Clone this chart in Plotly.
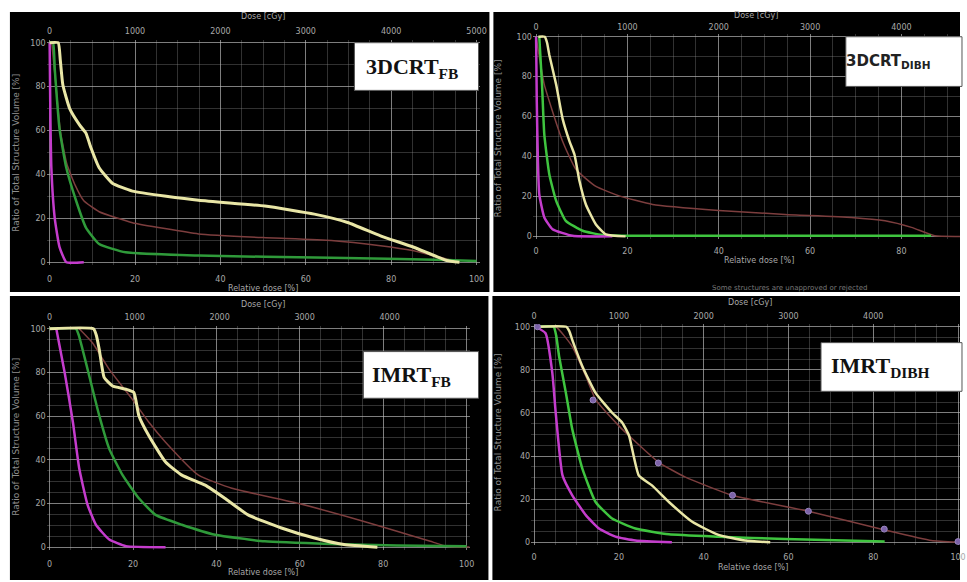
import plotly.graph_objects as go

W, H = 967, 582

# ---------------- data (relative dose [%], volume [%]) ----------------
# Panel 1: 3DCRT FB
p1_yellow_x = [0, 2.0, 2.5, 3.1, 4.7, 7.0, 8.5, 9.7, 11.6, 14.7, 19.4, 34.9, 50.4, 62.0, 69.8, 77.5, 85.3, 93.0, 96.0]
p1_yellow_y = [100, 100, 92, 80.7, 70, 62.6, 58.8, 52, 43, 36, 32.4, 28.2, 25.6, 21.9, 18.1, 12, 6.8, 0.8, 0]
p1_brown_x = [0.5, 1.5, 2.5, 4, 6, 8, 11.6, 19.4, 27, 34.9, 50, 66, 77.5, 85, 93, 96]
p1_brown_y = [100, 80, 60, 45, 35, 28, 23, 18, 15.3, 12.9, 11.2, 9.9, 7.5, 5.3, 1.5, 0]
p1_green_x = [0, 0.8, 1.2, 2.3, 3.9, 6.2, 8.5, 11.6, 17.8, 34.9, 65.9, 93, 100]
p1_green_y = [100, 100, 88, 61, 43, 28, 15.8, 8.3, 4.5, 3, 2, 1, 0.5]
p1_mag_x = [0, 0.15, 0.4, 1.2, 2.3, 3.9, 8.0]
p1_mag_y = [100, 70, 43, 20, 7, 0, 0]

# Panel 2: 3DCRT DIBH
p2_yellow_x = [0.5, 1.9, 2.4, 2.9, 4.4, 5.8, 7.3, 8.4, 9.5, 10.9, 13.1, 15.3, 19.6]
p2_yellow_y = [100, 100, 97, 90.9, 76, 59, 47.7, 41, 27.7, 16, 6, 1, 0]
p2_brown_x = [0, 1.8, 3.6, 5.8, 8.7, 13.1, 18.2, 25.5, 40, 54.5, 69, 76.4, 82.2, 87.3, 93]
p2_brown_y = [100, 76, 62.6, 47.7, 33.6, 25, 20.3, 16, 13, 11, 9.5, 7.8, 4.5, 0.3, 0]
p2_green_x = [0.7, 1.3, 1.8, 2.9, 4.4, 6.5, 10.2, 14.5, 19.6, 86.5]
p2_green_y = [100, 76, 51, 31, 17.8, 7.8, 2.8, 0.7, 0.3, 0.3]
p2_mag_x = [0, 0.15, 0.4, 0.7, 1.8, 3.6, 8.0, 16.7]
p2_mag_y = [100, 67.6, 37.7, 21, 9.5, 3.6, 0.3, 0]

# Panel 3: IMRT FB
p3_yellow_x = [0, 10.5, 11.2, 11.9, 13.1, 15.1, 18.3, 20.2, 21.4, 23.8, 27.8, 31.7, 37.3, 42, 47.6, 55.6, 63.5, 70.6, 78.6]
p3_yellow_y = [100, 100, 97, 90.5, 77.6, 73.8, 72.3, 70.8, 60.2, 51, 39, 33, 28.4, 22.4, 14.8, 8.8, 4.2, 1.2, 0]
p3_brown_x = [7.1, 10.3, 14.3, 19.8, 23.8, 27.8, 35.7, 43.7, 59.5, 75.4, 83.3, 91.3, 95.2, 102]
p3_brown_y = [100, 93.5, 81.4, 67.8, 57.2, 48.1, 33, 27, 20.1, 11.8, 7.3, 2.7, 0.5, 0]
p3_green_x = [0, 6.3, 7.0, 7.9, 9.5, 11.9, 14.3, 17.5, 21.4, 25.4, 31.7, 39.7, 51.6, 67.5, 83.3, 100]
p3_green_y = [100, 100, 97, 90.5, 78.4, 60.2, 45, 33, 22.4, 14.8, 10.3, 5.7, 2.7, 1.5, 0.8, 0.5]
p3_mag_x = [1.6, 3.6, 5.6, 7.1, 9.1, 11.1, 14.3, 18.3, 27.8]
p3_mag_y = [100, 80, 57, 36, 19.4, 10.3, 3.5, 0.5, 0]

# Panel 4: IMRT DIBH
p4_yellow_x = [0, 7.6, 8.3, 9.0, 11.4, 14.5, 18.4, 20.8, 22.4, 24.7, 27.8, 31.8, 37.3, 43.5, 49.8, 55.7]
p4_yellow_y = [100, 100, 98, 93.9, 81.6, 69.3, 60.1, 55.5, 49.4, 31, 26.4, 18.7, 9.5, 3.4, 0.8, 0]
p4_brown_x = [0.8, 5.1, 9.0, 12.2, 14.5, 20.0, 22.4, 29.4, 35.7, 46.7, 64.7, 82.7, 93.7, 100]
p4_brown_y = [100, 100, 90.8, 77, 66.3, 54, 49.4, 37.1, 30.2, 21.8, 14.4, 5.7, 0.8, 0]
p4_mark_x = [0.8, 13.9, 29.3, 46.8, 64.7, 82.6, 100]
p4_mark_y = [100, 66, 36.8, 21.8, 14.4, 6.1, 0.3]
p4_green_x = [0, 4.6, 5.2, 5.9, 7.5, 9.0, 11.4, 14.5, 18.4, 23.9, 31.8, 43.5, 59.2, 82.7]
p4_green_y = [100, 100, 96, 86.2, 69.3, 52.5, 34, 18.7, 11, 6.4, 3.7, 2.6, 1.5, 0.3]
p4_mag_x = [0.4, 2.7, 4.3, 5.1, 6.7, 9.0, 12.2, 15.3, 19.2, 23.9, 32.5]
p4_mag_y = [100, 97, 78.5, 60, 31, 21.8, 12.6, 6.4, 2.6, 0.8, 0]

rel_ticks = [0, 20, 40, 60, 80, 100]
vol_ticks = [0, 20, 40, 60, 80, 100]
dose_ticks = [0, 1000, 2000, 3000, 4000, 5000]
labels = ["3DCRT<sub>FB</sub>", "3DCRT<sub>DIBH</sub>", "IMRT<sub>FB</sub>", "IMRT<sub>DIBH</sub>"]

# ---------------- layout helpers ----------------
def px(x):
    return x / W

def py(y):
    return 1 - y / H

YELLOW = "#e9e6a6"
BROWN = "#7d3e3e"
MAGENTA = "#c43ccc"
GREEN1 = "#2f9a3a"
GREEN2 = "#3fc43f"
TICKC = "#a8a8a8"

panels = [
    # pixel position of relative-dose 0 / 100 and volume 100 / 0
    dict(x0=50, x100=480, xend=480, yt=41, yb=262, ym=10, bl=9, tl=4),
    dict(x0=540, x100=1000, xend=967, yt=35, yb=236, ym=10, bl=7, tl=2),
    dict(x0=50, x100=470, xend=470, yt=329, yb=549, ym=5, bl=9, tl=4, dose_px=85.6),
    dict(x0=538, x100=965, xend=967, yt=327, yb=544, ym=5, bl=7, tl=3),
]
XPAD, YPAD = 0.7, 1.2  # small padding so edge lines are not half clipped

data_sets = [
    [(p1_brown_x, p1_brown_y, BROWN, 1.5), (p1_green_x, p1_green_y, GREEN1, 2.5),
     (p1_mag_x, p1_mag_y, MAGENTA, 2.5), (p1_yellow_x, p1_yellow_y, YELLOW, 3)],
    [(p2_brown_x, p2_brown_y, BROWN, 1.5), (p2_green_x, p2_green_y, GREEN2, 2.5),
     (p2_mag_x, p2_mag_y, MAGENTA, 2.5), (p2_yellow_x, p2_yellow_y, YELLOW, 2.5)],
    [(p3_brown_x, p3_brown_y, BROWN, 1.5), (p3_green_x, p3_green_y, GREEN1, 2.5),
     (p3_mag_x, p3_mag_y, MAGENTA, 2.5), (p3_yellow_x, p3_yellow_y, YELLOW, 3)],
    [(p4_brown_x, p4_brown_y, BROWN, 1.5), (p4_green_x, p4_green_y, GREEN2, 2.5),
     (p4_mag_x, p4_mag_y, MAGENTA, 2.5), (p4_yellow_x, p4_yellow_y, YELLOW, 2.5)],
]

fig = go.Figure()
layout = dict(
    width=W, height=H, autosize=False,
    margin=dict(l=0, r=0, t=0, b=0),
    paper_bgcolor="white", plot_bgcolor="black",
    showlegend=False,
    font=dict(family="DejaVu Sans", color=TICKC, size=8),
)

for i, p in enumerate(panels):
    n = i + 1
    xa = f"xaxis{n}" if n > 1 else "xaxis"
    ya = f"yaxis{n}" if n > 1 else "yaxis"
    ta = f"xaxis{n + 4}"
    sx = (p["x100"] - p["x0"]) / 100.0
    sy = (p["yb"] - p["yt"]) / 100.0
    xl_px = p["x0"] - XPAD * sx
    xr_px = min(p["xend"] + XPAD * sx, W)
    xmin = -XPAD
    xmax = (xr_px - p["x0"]) / sx
    yt_px = p["yt"] - YPAD * sy
    yb_px = p["yb"] + YPAD * sy
    xdom = [px(xl_px), px(xr_px)]
    ydom = [py(yb_px), py(yt_px)]
    dpx = p.get("dose_px", sx * 100 / 5)  # pixels per 1000 cGy
    dmin = xmin * sx / dpx * 1000
    dmax = (xr_px - p["x0"]) / dpx * 1000
    layout[xa] = dict(
        domain=xdom, anchor=f"y{n}", range=[xmin, xmax], tickvals=rel_ticks,
        showgrid=True, gridcolor="rgba(190,190,190,0.55)", gridwidth=1,
        minor=dict(dtick=5, tick0=0, showgrid=True, gridcolor="rgba(150,150,150,0.33)", gridwidth=1),
        zeroline=False, showline=False,
        ticks="outside", ticklen=p["bl"] - int(YPAD * sy), tickcolor="rgba(0,0,0,0)",
        tickfont=dict(size=8, color=TICKC),
    )
    layout[ya] = dict(
        domain=ydom, anchor=f"x{n}", range=[-YPAD, 100 + YPAD], tickvals=vol_ticks,
        showgrid=True, gridcolor="rgba(190,190,190,0.55)", gridwidth=1,
        minor=dict(dtick=p["ym"], tick0=0, showgrid=True, gridcolor="rgba(150,150,150,0.33)", gridwidth=1),
        zeroline=False, showline=False,
        ticks="", tickfont=dict(size=8, color=TICKC),
    )
    layout[ta] = dict(
        overlaying=f"x{n}", anchor=f"y{n}", side="top", range=[dmin, dmax],
        tickvals=dose_ticks, showgrid=False, zeroline=False, showline=False,
        ticks="outside", ticklen=max(p["tl"] - int(YPAD * sy), 0), tickcolor="rgba(0,0,0,0)",
        tickfont=dict(size=8, color=TICKC),
    )
    for (xs, ys, col, lw) in data_sets[i]:
        fig.add_trace(go.Scatter(x=xs, y=ys, mode="lines", xaxis=f"x{n}", yaxis=f"y{n}",
                                 line=dict(color=col, width=lw, shape="spline", smoothing=0.45),
                                 hoverinfo="skip"))
    # invisible trace for top dose axis
    fig.add_trace(go.Scatter(x=[0, 1000], y=[0, 0], mode="markers", xaxis=f"x{n + 4}", yaxis=f"y{n}",
                             marker=dict(opacity=0), hoverinfo="skip"))

fig.add_trace(go.Scatter(x=p4_mark_x, y=p4_mark_y, mode="markers", xaxis="x4", yaxis="y4",
                         marker=dict(color="#7c62a8", size=6, line=dict(color="#9a86c0", width=1)),
                         hoverinfo="skip"))

# panel backgrounds
shapes = []
for (x0, y0, x1, y1) in [(10, 10, 493, 292), (497, 10, 967, 292), (10, 296, 492, 582), (496, 296, 967, 582)]:
    shapes.append(dict(type="rect", xref="paper", yref="paper", x0=px(x0), x1=px(x1), y0=py(y1), y1=py(y0),
                       fillcolor="black", line=dict(width=0), layer="below"))
# label boxes
boxes = [(357, 41, 482, 89), (852, 35, 969, 85), (366, 352, 482, 399), (827, 343, 969, 392)]
for (x0, y0, x1, y1) in boxes:
    shapes.append(dict(type="rect", xref="paper", yref="paper", x0=px(x0), x1=px(x1), y0=py(y1), y1=py(y0),
                       fillcolor="white", line=dict(color="#555555", width=1), layer="above"))
layout["shapes"] = shapes

ann = []
label_pos = [(415, 66, "Liberation Serif", 22, "#111"), (894, 60, "DejaVu Sans", 15, "#222"),
             (415, 377, "Liberation Serif", 22, "#111"), (886, 368, "Liberation Serif", 22, "#111")]
for lab, (x, y, fam, sz, col) in zip(labels, label_pos):
    ann.append(dict(x=px(x), y=py(y), xref="paper", yref="paper", text=f"<b>{lab}</b>", showarrow=False,
                    font=dict(family=fam, size=sz, color=col), xanchor="center", yanchor="middle"))

titles = [
    (265, 15, 152, 16), (762, 14, 137, 502), (265, 305, 438, 16), (755, 303, 433, 502)
]
bottoms = [(265, 288), (765, 260), (265, 574), (758, 569)]
for (tx, ty, yty, ytx), (bx, by) in zip(titles, bottoms):
    ann.append(dict(x=px(tx), y=py(ty), xref="paper", yref="paper", text="Dose [cGy]", showarrow=False,
                    font=dict(size=8, color=TICKC), xanchor="center", yanchor="middle"))
    ann.append(dict(x=px(bx), y=py(by), xref="paper", yref="paper", text="Relative dose [%]", showarrow=False,
                    font=dict(size=8, color=TICKC), xanchor="center", yanchor="middle"))
    ann.append(dict(x=px(ytx), y=py(yty), xref="paper", yref="paper",
                    text="Ratio of Total Structure Volume [%]", showarrow=False, textangle=-90,
                    font=dict(size=9, color="#8e8e8e"), xanchor="center", yanchor="middle"))
ann.append(dict(x=px(795), y=py(288), xref="paper", yref="paper",
                text="Some structures are unapproved or rejected", showarrow=False,
                font=dict(size=7, color="#777"), xanchor="center", yanchor="middle"))
layout["annotations"] = ann

fig.update_layout(**layout)
fig.write_html("out.html", config={"displayModeBar": False},
               post_script="document.body.style.margin='0';document.body.style.overflow='hidden';")
